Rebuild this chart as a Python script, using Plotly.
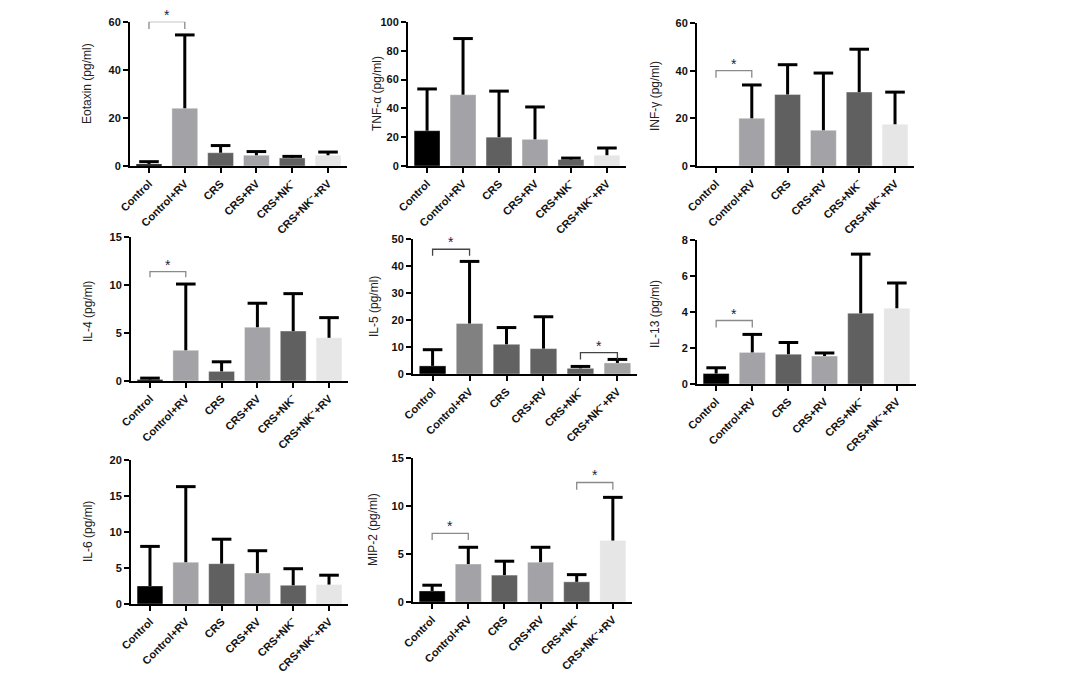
import plotly.graph_objects as go

W, H = 1076, 679
PAGE_OFFSET = 8  # default body margin of the html page

categories = ["Control", "Control+RV", "CRS", "CRS+RV", "CRS+NK⁻", "CRS+NK⁻+RV"]

# ---- data (mean and upper end of error bar) ----
eotaxin_mean = [0.8, 24.0, 5.5, 4.5, 3.3, 4.5]
eotaxin_upper = [1.8, 54.5, 8.5, 6.0, 4.0, 5.8]

tnf_mean = [24.5, 49.5, 20.0, 18.5, 4.5, 7.5]
tnf_upper = [53.5, 88.5, 52.0, 41.0, 5.5, 12.5]

inf_mean = [0.0, 20.0, 30.0, 15.0, 31.0, 17.5]
inf_upper = [None, 34.0, 42.5, 39.0, 49.0, 31.0]

il4_mean = [0.15, 3.2, 1.0, 5.6, 5.2, 4.5]
il4_upper = [0.3, 10.1, 2.0, 8.1, 9.1, 6.6]

il5_mean = [3.0, 18.7, 11.0, 9.4, 2.1, 4.1]
il5_upper = [9.0, 41.7, 17.2, 21.2, 2.8, 5.4]

il13_mean = [0.58, 1.75, 1.65, 1.55, 3.92, 4.2]
il13_upper = [0.9, 2.75, 2.3, 1.72, 7.2, 5.6]

il6_mean = [2.5, 5.8, 5.6, 4.3, 2.6, 2.7]
il6_upper = [8.0, 16.3, 9.0, 7.4, 4.9, 4.0]

mip2_mean = [1.15, 3.95, 2.8, 4.15, 2.1, 6.4]
mip2_upper = [1.75, 5.7, 4.25, 5.7, 2.85, 10.9]

# significance brackets: (cat_a, cat_b, bracket height, leg bottom)
eotaxin_sig = [(0, 1, 60.0, 57.0)]
inf_sig = [(0, 1, 40.0, 37.0)]
il4_sig = [(0, 1, 11.4, 10.8)]
il5_sig = [(0, 1, 46.2, 43.8), (4, 5, 7.9, 5.4)]
il13_sig = [(0, 1, 3.52, 3.13)]
mip2_sig = [(0, 1, 7.15, 6.45), (4, 5, 12.45, 11.7)]

# ---- styles / layout ----
default_colors = ["#000000", "#a3a2a7", "#606060", "#a3a2a7", "#606060", "#e6e6e6"]
il5_colors = ["#000000", "#818181", "#626262", "#626262", "#626262", "#a2a2a2"]

panels = [
    # title, mean, upper, colors, ymax, dtick, x px (left,right), y px (top,bottom), sig, bracket color, title x offset, title y center px
    ("Eotaxin (pg/ml)", eotaxin_mean, eotaxin_upper, default_colors, 60, 20, (130, 347), (21.7, 166), eotaxin_sig, "#8a8a8a", 43, 84),
    ("TNF-α (pg/ml)", tnf_mean, tnf_upper, default_colors, 100, 20, (408, 626), (22, 166), [], "#8a8a8a", 31, 94),
    ("INF-γ (pg/ml)", inf_mean, inf_upper, default_colors, 60, 20, (697, 914), (23, 166), inf_sig, "#8a8a8a", 42, 96),
    ("IL-4 (pg/ml)", il4_mean, il4_upper, default_colors, 15, 5, (131, 348), (237, 381), il4_sig, "#8a8a8a", 43, 312),
    ("IL-5 (pg/ml)", il5_mean, il5_upper, il5_colors, 50, 10, (413, 637), (239, 374), il5_sig, "#444444", 39, 307),
    ("IL-13 (pg/ml)", il13_mean, il13_upper, default_colors, 8, 2, (697, 916), (239.7, 384), il13_sig, "#8a8a8a", 42, 314),
    ("IL-6 (pg/ml)", il6_mean, il6_upper, default_colors, 20, 5, (131, 348), (460, 604), [], "#8a8a8a", 43, 532),
    ("MIP-2 (pg/ml)", mip2_mean, mip2_upper, default_colors, 15, 5, (413, 632), (458, 602), mip2_sig, "#8a8a8a", 40, 530),
]

FONT = "Liberation Sans, Arial, sans-serif"

fig = go.Figure()
annotations = []
layout_axes = {}

for i, (title, mean, upper, colors, ymax, dtick, xpx, ypx, sig, bcol, toff, tyc) in enumerate(panels, start=1):
    xa = "x" if i == 1 else f"x{i}"
    ya = "y" if i == 1 else f"y{i}"
    xkey = "xaxis" if i == 1 else f"xaxis{i}"
    ykey = "yaxis" if i == 1 else f"yaxis{i}"

    x0, x1 = xpx[0] - PAGE_OFFSET, xpx[1] - PAGE_OFFSET
    yt, yb = ypx[0] - PAGE_OFFSET, ypx[1] - PAGE_OFFSET
    xdom = [x0 / W, x1 / W]
    ydom = [1 - yb / H, 1 - yt / H]

    err = [(u - m) if u is not None else None for m, u in zip(mean, upper)]

    fig.add_trace(go.Bar(
        x=categories, y=mean, xaxis=xa, yaxis=ya, width=0.72,
        marker=dict(color=colors, line=dict(color="rgba(255,255,255,0.35)", width=1)),
        error_y=dict(type="data", symmetric=False,
                     array=[e if e is not None else 0 for e in err],
                     arrayminus=[0] * len(err),
                     color="black", thickness=3, width=0),
        hoverinfo="skip",
    ))
    # error bar caps
    cap_x = [c for c, u in zip(categories, upper) if u is not None]
    cap_y = [u for u in upper if u is not None]
    fig.add_trace(go.Scatter(
        x=cap_x, y=cap_y, xaxis=xa, yaxis=ya, mode="markers", cliponaxis=False,
        marker=dict(symbol="line-ew", size=14, line=dict(color="black", width=3)),
        hoverinfo="skip",
    ))
    # significance brackets
    for (a, b, h, leg) in sig:
        fig.add_trace(go.Scatter(
            x=[categories[a], categories[a], categories[b], categories[b]],
            y=[leg, h, h, leg], xaxis=xa, yaxis=ya, mode="lines", cliponaxis=False,
            line=dict(color=bcol, width=1.3), hoverinfo="skip",
        ))
        annotations.append(dict(
            x=(a + b) / 2, y=h, xref=xa, yref=ya, text="*", showarrow=False,
            yanchor="middle", yshift=7,
            font=dict(family=FONT, size=14, color="#1c1c3c"),
        ))

    layout_axes[xkey] = dict(
        domain=xdom, anchor=ya, type="category", range=[-0.53, 5.53],
        automargin=False,
        showline=True, linecolor="black", linewidth=2,
        ticks="outside", ticklen=5, tickwidth=2, tickcolor="black",
        tickangle=-45, showgrid=False, zeroline=False,
        tickfont=dict(family=FONT, size=11, color="#111111", weight="bold"),
    )
    layout_axes[ykey] = dict(
        domain=ydom, anchor=xa, range=[0, ymax], tick0=0, dtick=dtick,
        automargin=False,
        showline=True, linecolor="black", linewidth=2,
        ticks="outside", ticklen=5, tickwidth=2, tickcolor="black",
        showgrid=False, zeroline=False,
        tickfont=dict(family=FONT, size=11, color="#111111", weight="bold"),
    )
    annotations.append(dict(
        x=(x0 - toff) / W, y=1 - (tyc - PAGE_OFFSET) / H, xref="paper", yref="paper",
        text=title, textangle=-90, showarrow=False, xanchor="center", yanchor="middle",
        font=dict(family=FONT, size=12, color="#222222"),
    ))

fig.update_layout(
    width=W, height=H, margin=dict(l=0, r=0, t=0, b=0, autoexpand=False),
    paper_bgcolor="white", plot_bgcolor="white",
    showlegend=False, bargap=0.28,
    annotations=annotations,
    **layout_axes,
)

fig.write_html("out.html")
